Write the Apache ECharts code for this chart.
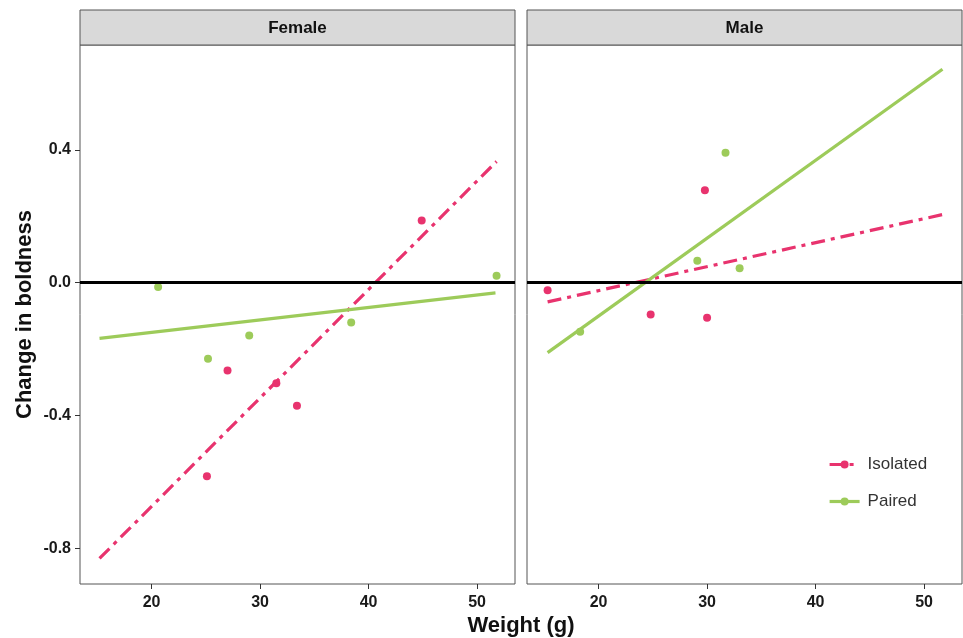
<!DOCTYPE html>
<html>
<head>
<meta charset="utf-8">
<title>Change in boldness by weight</title>
<script src="https://cdn.jsdelivr.net/npm/echarts@6/dist/echarts.min.js"></script>
<style>
  html, body { margin: 0; padding: 0; background: #fff; }
  #chart { width: 963px; height: 638px; }
</style>
</head>
<body>
<div id="chart"></div>
<script>
// panels and groups
var panels = ['Female', 'Male'];
var groups = ['Isolated', 'Paired'];

// observed points [weight, change]
var femaleIsolated = [[44.9, 0.187], [27.0, -0.265], [31.5, -0.303], [33.4, -0.371], [25.1, -0.583]];
var femalePaired = [[20.6, -0.013], [51.8, 0.021], [25.2, -0.229], [29.0, -0.159], [38.4, -0.120]];
var maleIsolated = [[15.3, -0.023], [29.8, 0.278], [24.8, -0.096], [30.0, -0.106]];
var malePaired = [[31.7, 0.391], [29.1, 0.066], [33.0, 0.043], [18.3, -0.148]];

// fitted lines (end points)
var femaleIsolatedFit = [[15.2, -0.831], [51.8, 0.365]];
var femalePairedFit = [[15.2, -0.168], [51.7, -0.031]];
var maleIsolatedFit = [[15.3, -0.058], [51.7, 0.205]];
var malePairedFit = [[15.3, -0.211], [51.7, 0.643]];

// axis ticks
var xTicks = [20, 30, 40, 50];
var yTicks = [-0.8, -0.4, 0, 0.4];

var pink = '#e8336e';
var green = '#9dcb5a';
var dashDot = [14, 6, 4, 6];
var font = 'Liberation Sans, Arial, sans-serif';

var chart = echarts.init(document.getElementById('chart'));

/**
 * 坐标轴
 */
function makeX(idx) {
    return {
        type: 'value', gridIndex: idx, min: 13.4, max: 53.5,
        axisLine: { show: false, onZero: false },
        splitLine: { show: false },
        axisTick: { show: true, length: 5, customValues: xTicks, lineStyle: { color: '#333' } },
        axisLabel: {
            customValues: xTicks, color: '#1a1a1a', fontWeight: 'bold',
            fontSize: 16, fontFamily: font, margin: 11
        }
    };
}
function makeY(idx) {
    var showLab = idx === 0;
    return {
        type: 'value', gridIndex: idx, min: -0.908, max: 0.716,
        axisLine: { show: false, onZero: false },
        splitLine: { show: false },
        name: showLab ? 'Change in boldness' : '',
        nameLocation: 'middle', nameGap: 44,
        nameTextStyle: { fontSize: 22, fontWeight: 'bold', color: '#111', fontFamily: font },
        axisTick: { show: showLab, length: 5, customValues: yTicks, lineStyle: { color: '#333' } },
        axisLabel: {
            show: showLab, customValues: yTicks, color: '#1a1a1a', fontWeight: 'bold',
            fontSize: 16, fontFamily: font, margin: 9,
            formatter: function (v) { return v.toFixed(1); }
        }
    };
}

function fitSeries(name, idx, data, color, type) {
    return {
        name: name, type: 'line', xAxisIndex: idx, yAxisIndex: idx,
        data: data, showSymbol: false, symbol: 'circle', symbolSize: 7,
        itemStyle: { color: color },
        lineStyle: { color: color, width: 3.2, type: type },
        silent: true, z: 3
    };
}
function pointSeries(name, idx, data, color) {
    return {
        name: name, type: 'scatter', xAxisIndex: idx, yAxisIndex: idx,
        data: data, symbolSize: 8, itemStyle: { color: color, opacity: 1 }, z: 4
    };
}
function zeroLine(idx) {
    return {
        type: 'line', xAxisIndex: idx, yAxisIndex: idx, data: [],
        markLine: {
            silent: true, symbol: 'none', label: { show: false },
            lineStyle: { color: '#000', width: 3, type: 'solid' },
            data: [{ yAxis: 0 }]
        }, z: 2
    };
}

var gridLeft = [80, 527];
var gridW = 435;

var graphics = [];
panels.forEach(function (p, i) {
    graphics.push({
        type: 'rect', shape: { x: gridLeft[i], y: 10, width: gridW, height: 35 },
        style: { fill: '#d9d9d9', stroke: '#555', lineWidth: 1 }
    });
    graphics.push({
        type: 'text', x: gridLeft[i] + gridW / 2, y: 28,
        style: { text: p, fill: '#111', font: 'bold 17px ' + font, align: 'center', verticalAlign: 'middle' }
    });
});
graphics.push({
    type: 'text', x: 521, y: 626,
    style: { text: 'Weight (g)', fill: '#111', font: 'bold 22px ' + font, align: 'center', verticalAlign: 'middle' }
});

var option = {
    backgroundColor: '#fff',
    animation: false,
    grid: [
        { left: gridLeft[0], top: 45, width: gridW, height: 539, show: true, borderColor: '#555', borderWidth: 1 },
        { left: gridLeft[1], top: 45, width: gridW, height: 539, show: true, borderColor: '#555', borderWidth: 1 }
    ],
    xAxis: [makeX(0), makeX(1)],
    yAxis: [makeY(0), makeY(1)],
    legend: {
        data: groups, orient: 'vertical', left: 823, top: 451,
        itemWidth: 30, itemHeight: 10, itemGap: 20,
        lineStyle: { width: 3.2 },
        textStyle: { fontSize: 17, color: '#333', fontFamily: font, padding: [0, 0, 0, 3] }
    },
    graphic: graphics,
    series: [
        zeroLine(0), zeroLine(1),
        fitSeries('Isolated', 0, femaleIsolatedFit, pink, dashDot),
        fitSeries('Paired', 0, femalePairedFit, green, 'solid'),
        fitSeries('Isolated', 1, maleIsolatedFit, pink, dashDot),
        fitSeries('Paired', 1, malePairedFit, green, 'solid'),
        pointSeries('Isolated', 0, femaleIsolated, pink),
        pointSeries('Paired', 0, femalePaired, green),
        pointSeries('Isolated', 1, maleIsolated, pink),
        pointSeries('Paired', 1, malePaired, green)
    ]
};
chart.setOption(option);
</script>
</body>
</html>
